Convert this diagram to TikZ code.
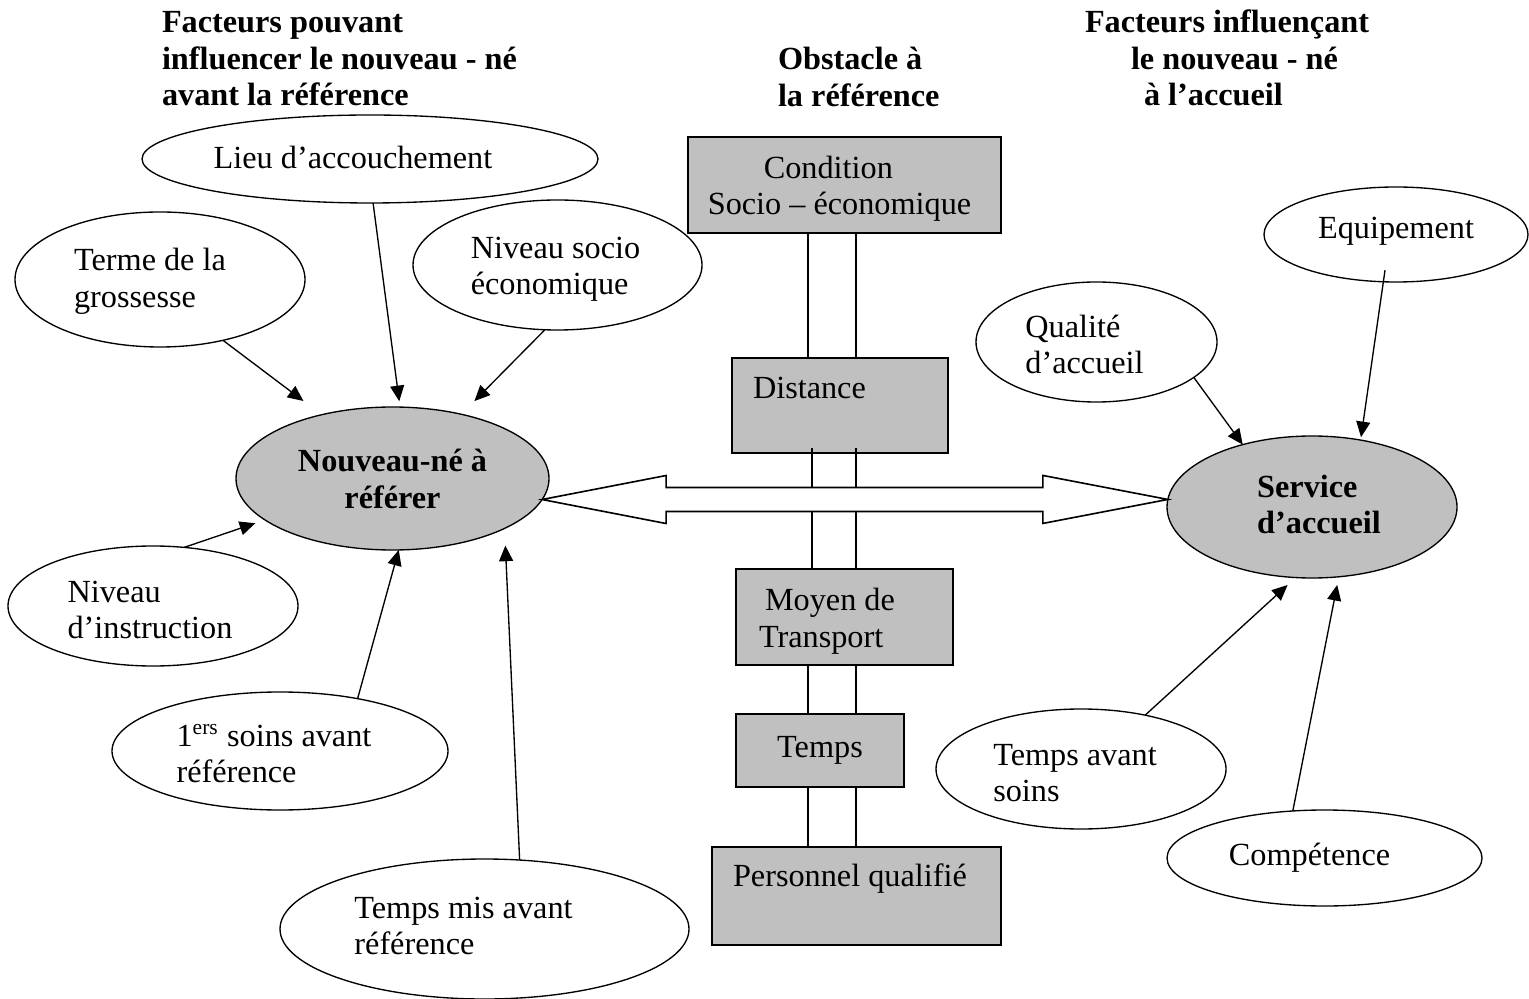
\documentclass[tikz,border=0pt]{standalone}
\usepackage{fontspec}
\setmainfont{Liberation Serif}
\usetikzlibrary{shapes.geometric,arrows.meta,calc}
\newdimen\pxu \pxu=0.372pt
\definecolor{gr}{RGB}{192,192,192}
% #1: trailing space (shifts text left by half), #2: lowering, #3: lines
\newcommand{\txtl}[3]{\raisebox{-#2\pxu}[\height][\depth]{\begin{tabular}{@{}l@{}}#3\end{tabular}}\hspace*{#1\pxu}}
\begin{document}
\begin{tikzpicture}[x=0.372pt,y=-0.372pt,
  every node/.style={font=\fontsize{12}{13.6}\selectfont, inner sep=0pt, outer sep=0pt},
  oval/.style={draw, line width=0.5pt, ellipse},
  goval/.style={oval, fill=gr, font=\fontsize{12}{13.6}\selectfont\bfseries},
  box/.style={draw, line width=0.8pt, fill=gr, rectangle},
  arr/.style={-{Triangle[length=5.8pt,width=5.2pt]}, line width=0.5pt},
  link/.style={line width=0.5pt},
  hd/.style={anchor=north west, align=left, font=\fontsize{12}{13.6}\selectfont\bfseries},
  txt/.style={anchor=north west, align=left}]
\useasboundingbox (0,0) rectangle (1529,999);

% headers
\node[hd] (h1) at (162,7) {\strut Facteurs pouvant\\influencer le nouveau - né\\avant la référence};
\node[hd] (h2) at (778,44) {\strut Obstacle à\\la référence};
\node[hd] (h3) at (1085,7) {\strut Facteurs influençant\\\hspace*{46\pxu}le nouveau - né\\\hspace*{59\pxu}à l'accueil};

% left ellipses
\node[oval, minimum width=456\pxu, minimum height=88\pxu] (lieu) at (370,159) {\txtl{34}{2}{Lieu d'accouchement}};
\node[oval, minimum width=290\pxu, minimum height=135\pxu] (terme) at (160,279.5) {\txtl{20}{2}{Terme de la\\grossesse}};
\node[oval, minimum width=289\pxu, minimum height=130\pxu] (nsoc) at (557.5,265) {\txtl{4}{4}{Niveau socio\\économique}};
\node[oval, minimum width=290\pxu, minimum height=120\pxu] (ninst) at (153,606) {\txtl{6}{7}{Niveau\\d'instruction}};
\node[oval, minimum width=336\pxu, minimum height=118\pxu] (soins) at (280,751) {\txtl{12}{6}{1\textsuperscript{ers} soins avant\\référence}};
\node[oval, minimum width=409\pxu, minimum height=140\pxu] (tmis) at (484.5,929) {\txtl{42}{0}{Temps mis avant\\référence}};
\node[goval, minimum width=313\pxu, minimum height=143\pxu] (nne) at (392.5,478.5) {\raisebox{-4\pxu}[\height][\depth]{\begin{tabular}{@{}c@{}}Nouveau-né à\\référer\end{tabular}}};

% right ellipses
\node[oval, minimum width=264\pxu, minimum height=95\pxu] (equip) at (1396,234.5) {\txtl{0}{-3}{Equipement}};
\node[oval, minimum width=241\pxu, minimum height=120\pxu] (qual) at (1096.5,342) {\txtl{24}{6}{Qualité\\d'accueil}};
\node[oval, minimum width=290\pxu, minimum height=120\pxu] (tavs) at (1081,769) {\txtl{12}{7}{Temps avant\\soins}};
\node[oval, minimum width=315\pxu, minimum height=96\pxu] (comp) at (1324.5,858) {\txtl{30}{0}{Compétence}};
\node[goval, minimum width=290\pxu, minimum height=142\pxu] (serv) at (1312,507) {\txtl{-14}{1}{Service\\d'accueil}};

% obstacle boxes
\node[box, minimum width=313\pxu, minimum height=96\pxu] (cond) at (844.5,185) {\txtl{10}{4}{\hspace*{56\pxu}Condition\\Socio – économique}};
\node[box, minimum width=216\pxu, minimum height=95\pxu] (dist) at (840,405.5) {};
\node[box, minimum width=217\pxu, minimum height=96\pxu] (moy) at (844.5,617) {};
\node[box, minimum width=168\pxu, minimum height=73\pxu] (tmp) at (820,750.5) {Temps};
\node[box, minimum width=289\pxu, minimum height=98\pxu] (pers) at (856.5,896) {};
\node[anchor=base west] (tdist) at ($(dist.north west)+(21,41)$) {Distance};
\node[txt] (tmoy) at ($(moy.north west)+(23,16)$) {\strut\hspace*{6\pxu}Moyen de\\Transport};
\node[anchor=base west] (tpers) at ($(pers.north west)+(21,39)$) {Personnel qualifié};

% double arrow and vertical links
\coordinate (tl) at (nne.-8.4);
\coordinate (tr) at (serv.177.6);
\coordinate (st) at ($(tl)+(0,-12)$);
\coordinate (sb) at ($(tl)+(0,12)$);
\coordinate (va) at (808,0);
\coordinate (vb) at (856,0);
\coordinate (vc) at (812,0);
\draw[link] (cond.south -| va) -- (dist.north -| va);
\draw[link] (cond.south -| vb) -- (dist.north -| vb);
\draw[link, shorten <=-1.9pt] (dist.south -| vc) -- (st -| vc);
\draw[link, shorten <=-1.9pt] (dist.south -| vb) -- (st -| vb);
\draw[link] (sb -| vc) -- (moy.north -| vc);
\draw[link] (sb -| vb) -- (moy.north -| vb);
\draw[link] (moy.south -| va) -- (tmp.north -| va);
\draw[link] (moy.south -| vb) -- (tmp.north -| vb);
\draw[link] (tmp.south -| va) -- (pers.north -| va);
\draw[link] (tmp.south -| vb) -- (pers.north -| vb);
\draw[line width=0.6pt, fill=white, line join=miter]
  (tl) -- ($(tl)+(124,-24)$) -- ($(tl)+(124,-12)$) -- ($(tr)+(-125,-12)$)
  -- ($(tr)+(-125,-24)$) -- (tr) -- ($(tr)+(-125,24)$) -- ($(tr)+(-125,12)$)
  -- ($(tl)+(124,12)$) -- ($(tl)+(124,24)$) -- cycle;

% arrows to the newborn
\draw[arr, shorten >=2.2pt] (lieu.-86) -- (nne.84.5);
\draw[arr, shorten >=8.5pt] (terme.-44.3) -- (nne.138);
\draw[arr, shorten >=6.9pt] (nsoc.-101.6) -- (nne.43.7);
\draw[arr, shorten >=3.8pt] (ninst.62.7) -- (nne.-162.1);
\draw[arr] (soins.34.7) -- (nne.-85.5);
\draw[arr, shorten >=6.4pt] (tmis.63.1) -- (nne.-24.1);

% arrows to the service
\draw[arr] (qual.-20.8) -- (serv.138.9);
\draw[arr, shorten <=-4.35pt, shorten >=1.1pt] (equip.-105.6) -- (serv.54.6);
\draw[arr, shorten >=4.1pt] (tavs.40.7) -- (serv.-103.5);
\draw[arr, shorten >=3.1pt] (comp.124.9) -- (serv.-69.1);
\end{tikzpicture}
\end{document}
